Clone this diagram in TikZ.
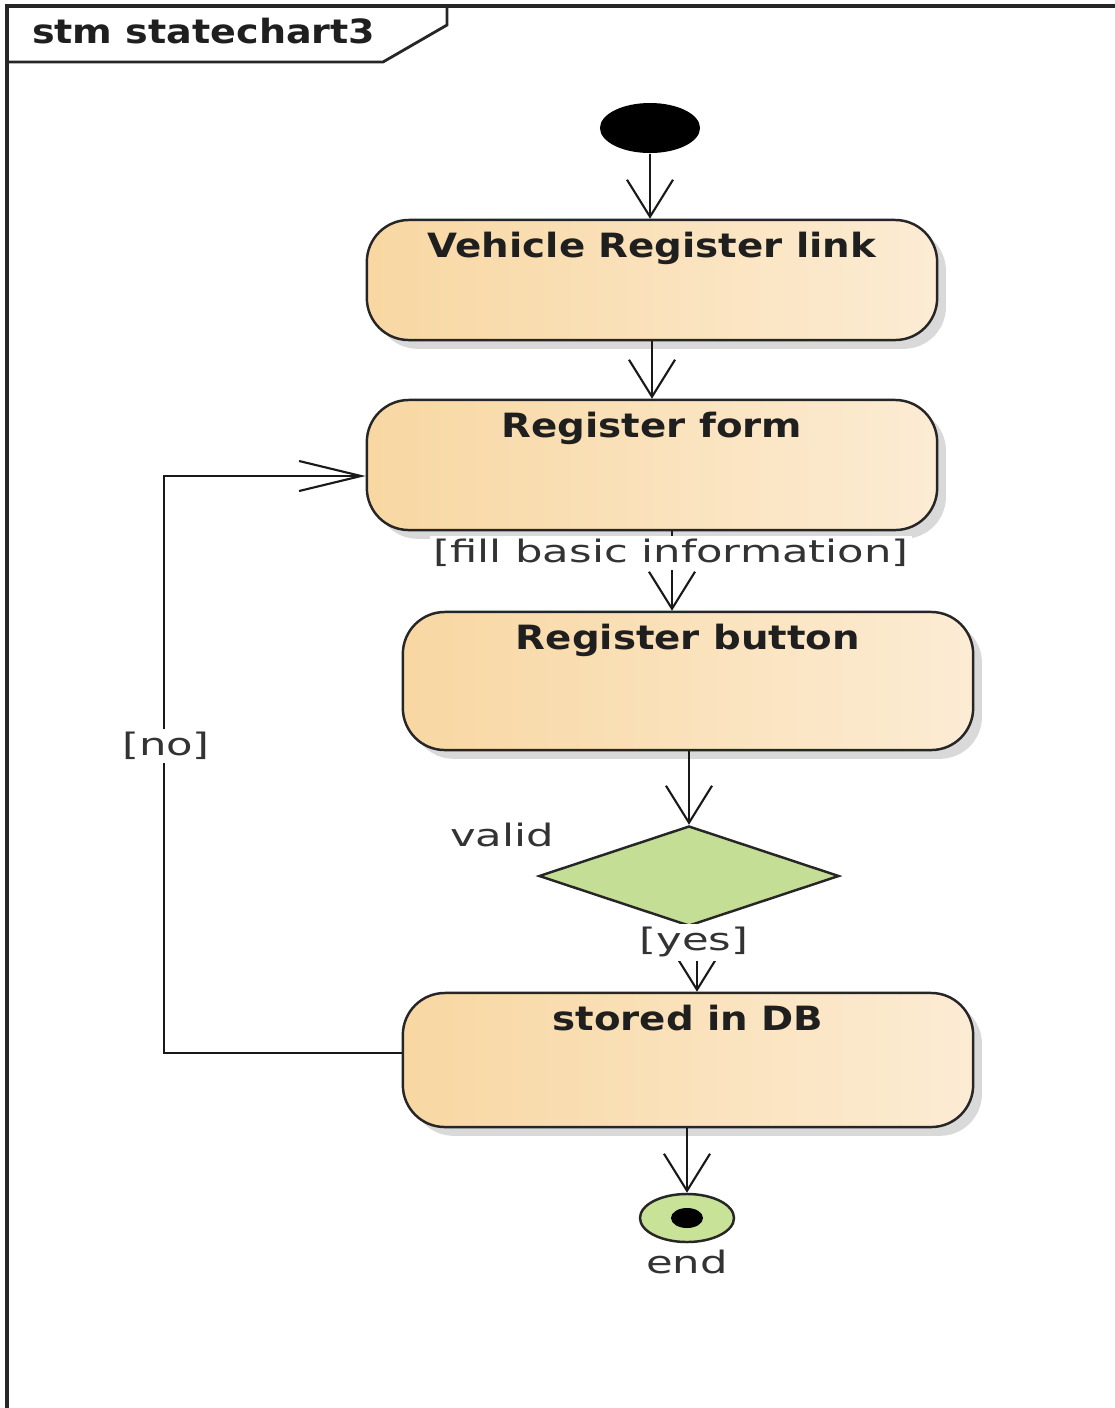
\documentclass[tikz,border=0pt]{standalone}
\usepackage{fontspec}
\setmainfont{DejaVu Sans}
\newfontfamily\statefont{DejaVu Sans}[FakeStretch=1.16]
\newfontfamily\framefont{DejaVu Sans}[FakeStretch=1.14]
\newfontfamily\guardfont{DejaVu Sans}[FakeStretch=1.4]
\usetikzlibrary{shapes.geometric, arrows.meta, shadows, calc}

\definecolor{stateL}{RGB}{248,215,162}
\definecolor{stateR}{RGB}{252,236,212}
\definecolor{decisionG}{RGB}{196,222,150}
\definecolor{endG}{RGB}{200,226,152}

\begin{document}
\begin{tikzpicture}[x=0.01cm, y=-0.01cm, line width=0.6pt,
  stateframe/.style={draw=black!85, line width=0.7pt, rounded corners=0.42cm,
    left color=stateL, right color=stateR, minimum width=5.7cm, inner sep=0pt,
    drop shadow={shadow xshift=2.5pt, shadow yshift=-2.5pt, opacity=0.15, fill=black}},
  statename/.style={anchor=north, font=\statefont\bfseries\fontsize{9.5}{11}\selectfont,
    text=black!88, inner sep=0pt, yshift=-0.12cm},
  guard/.style={font=\guardfont\fontsize{8.8}{10}\selectfont, text=black!80,
    fill=white, inner sep=1pt},
  flow/.style={-{Straight Barb[length=0.37cm, width=0.46cm, line width=0.6pt]}, draw=black!90},
  flowh/.style={-{Straight Barb[length=0.62cm, width=0.3cm, line width=0.6pt]}, draw=black!90},
  decision/.style={diamond, aspect=3, draw=black!85, line width=0.7pt, fill=decisionG,
    minimum width=3cm, minimum height=1cm, inner sep=0pt},
]
\useasboundingbox (0,0) rectangle (1115,1408);
\fill[white] (0,0) rectangle (1115,1408);

% diagram frame with its name tab
\draw[black!85, line width=0.9pt] (7,1408) -- (7,6) -- (1115,6);
\draw[black!85, line width=0.8pt] (7,62) -- (383,62) -- (447,25) -- (447,6);
\node[anchor=west, inner sep=0pt, font=\framefont\bfseries\fontsize{9.5}{11}\selectfont, text=black!88]
  (frameName) at (31,31) {stm statechart3};

% states
\node[ellipse, fill=black, minimum width=1cm, minimum height=0.5cm, inner sep=0pt] (init) at (650,128) {};
\node[stateframe, minimum height=1.2cm, label={[statename]north:Vehicle Register link}] (s1) at (652,280) {};
\node[stateframe, minimum height=1.3cm, label={[statename]north:Register form}] (s2) at (652,465) {};
\node[stateframe, minimum height=1.38cm, label={[statename]north:Register button}] (s3) at (688,681) {};
\node[decision] (dec) at (689,876) {};
\node[stateframe, minimum height=1.34cm, label={[statename]north:stored in DB}] (s4) at (688,1060) {};
\node[ellipse, draw=black!85, line width=0.7pt, fill=endG, minimum width=0.94cm, minimum height=0.48cm, inner sep=0pt] (fin) at (687,1218) {};
\node[ellipse, fill=black, minimum width=0.32cm, minimum height=0.2cm, inner sep=0pt] (finDot) at (fin.center) {};

% transitions
\draw[flow] (init.south) -- (init.south |- s1.north);
\draw[flow] (s1.south) -- (s2.north);

\coordinate (g1) at ($(s2.south)+(20,0)$);
\draw[flow] (g1) -- (g1 |- s3.north);
\node[guard] (fillLbl) at (671,553) {[fill basic information]};

\draw[flow] (dec.north |- s3.south) -- (dec.north);

\coordinate (g2) at ($(dec.south)+(8,0)$);
\draw[flow] (g2) -- (g2 |- s4.north);
\node[guard] (yesLbl) at (694,942) {[yes]};

\draw[flow] (fin.north |- s4.south) -- (fin.north);

\coordinate (noA) at ($(s4.west)+(0,-7)$);
\coordinate (noB) at ($(s2.west)+(0,11)$);
\draw[flowh] (noA) -- ++(-238,0) |- (noB);
\node[guard] (noLbl) at (166,746) {[no]};

% free labels
\node[guard, fill=none] (validLbl) at (502,835) {valid};
\node[guard, fill=none] (endLbl) at (687,1262) {end};
\end{tikzpicture}
\end{document}
